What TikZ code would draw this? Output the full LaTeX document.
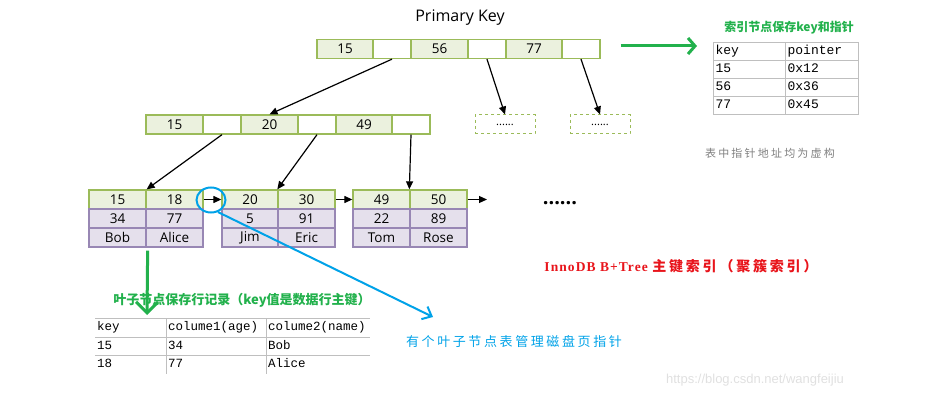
\documentclass[tikz,border=0pt]{standalone}
\usepackage{fontspec}
\setmainfont{Open Sans}
\newfontfamily\monofont{Liberation Mono}
\newfontfamily\markfont{Liberation Sans}
\newfontfamily\cjkfont{Noto Sans CJK SC}
\newfontfamily\cjkwide[LetterSpace=20]{Noto Sans CJK SC}
\newfontfamily\serifwide[LetterSpace=8]{Liberation Serif}
\usetikzlibrary{shapes.geometric, arrows.meta, matrix}

\definecolor{cellgreen}{HTML}{EBF1DE}
\definecolor{edgegreen}{HTML}{9BBB59}
\definecolor{cellpurple}{HTML}{E5E0EC}
\definecolor{edgepurple}{HTML}{9887B4}
\definecolor{noteblue}{HTML}{00A2E8}
\definecolor{notegreen}{HTML}{22B14C}
\definecolor{notered}{HTML}{E8141B}

\begin{document}
\begin{tikzpicture}[x=1pt, y=-1pt,
  keycell/.style={draw=edgegreen, fill=cellgreen, line width=1.3pt, minimum width=56pt,
    minimum height=19pt, inner sep=0pt, font=\fontsize{13.5}{16}\selectfont},
  ptrcell/.style={keycell, fill=white, minimum width=38pt},
  leafkey/.style={keycell, minimum width=57pt},
  leafdata/.style={leafkey, draw=edgepurple, fill=cellpurple},
  morebox/.style={draw=edgegreen, dashed, line width=1pt, minimum width=60pt,
    minimum height=19pt, inner sep=0pt, font=\fontsize{11}{12}\selectfont},
  tabcell/.style={draw=black!25, line width=0.8pt, minimum height=18pt, inner xsep=2pt,
    inner ysep=0pt, align=left, text height=9pt, text depth=2.5pt,
    font=\monofont\fontsize{13}{14}\selectfont},
  rowcell/.style={minimum height=18.5pt, inner xsep=2pt, inner ysep=0pt, align=left,
    text height=9pt, text depth=2.5pt, font=\monofont\fontsize{12.5}{13}\selectfont},
  tline/.style={draw=black!25, line width=0.8pt},
  arr/.style={-{Triangle[length=8pt,width=7pt]}, line width=1.2pt},
  garr/.style={-{Straight Barb[length=7pt,width=16pt]}, line width=3pt, notegreen},
  barr/.style={-{Straight Barb[length=8pt,width=14pt]}, line width=2pt, noteblue}
]
  \useasboundingbox (0,0) rectangle (938,409);

  %% Root page
  \node[font=\fontsize{16}{18}\selectfont] (pktitle) at (460,18) {Primary Key};
  \node[keycell] (r1) at (345,49) {15};
  \node[ptrcell] (r2) at (392,49) {};
  \node[keycell, minimum width=57pt] (r3) at (439.5,49) {56};
  \node[ptrcell] (r4) at (487,49) {};
  \node[keycell] (r5) at (534,49) {77};
  \node[ptrcell] (r6) at (581,49) {};

  %% Second level
  \node[keycell, minimum width=57pt] (i1) at (174.5,124.5) {15};
  \node[ptrcell] (i2) at (222,124.5) {};
  \node[keycell, minimum width=57pt] (i3) at (269.5,124.5) {20};
  \node[ptrcell] (i4) at (317,124.5) {};
  \node[keycell] (i5) at (364,124.5) {49};
  \node[ptrcell] (i6) at (411,124.5) {};
  \node[morebox] (m1) at (505,124.5) {......};
  \node[morebox] (m2) at (600,124.5) {......};
  \draw[arr] (r2.south) -- (i3.north);
  \draw[arr] (r4.south) -- (m1.north);
  \draw[arr] (r6.south) -- (m2.north);

  %% Leaf pages
  \node[leafkey] (l1k1) at (117.5,199.5) {15};
  \node[leafkey] (l1k2) at (174.5,199.5) {18};
  \node[leafdata] (l1v1) at (117.5,218.5) {34};
  \node[leafdata] (l1v2) at (174.5,218.5) {77};
  \node[leafdata] (l1n1) at (117.5,237.5) {Bob};
  \node[leafdata] (l1n2) at (174.5,237.5) {Alice};

  \node[leafkey, minimum width=56pt] (l2k1) at (250,199.5) {20};
  \node[leafkey] (l2k2) at (306.5,199.5) {30};
  \node[leafdata, minimum width=56pt] (l2v1) at (250,218.5) {5};
  \node[leafdata] (l2v2) at (306.5,218.5) {91};
  \node[leafdata, minimum width=56pt] (l2n1) at (250,237.5) {Jim};
  \node[leafdata] (l2n2) at (306.5,237.5) {Eric};

  \node[leafkey] (l3k1) at (381.5,199.5) {49};
  \node[leafkey] (l3k2) at (438.5,199.5) {50};
  \node[leafdata] (l3v1) at (381.5,218.5) {22};
  \node[leafdata] (l3v2) at (438.5,218.5) {89};
  \node[leafdata] (l3n1) at (381.5,237.5) {Tom};
  \node[leafdata] (l3n2) at (438.5,237.5) {Rose};

  \node[font=\bfseries\fontsize{20}{20}\selectfont] (dots) at (560,203) {......};
  \coordinate (nextleaf) at (487,199.5);

  \draw[arr] (i2.south) -- (l1k1.north east);
  \draw[arr] (i4.south) -- (l2k2.north west);
  \draw[arr] (i6.south) -- (l3k2.north west);
  \draw[arr] (l1k2.east) -- (l2k1.west);
  \draw[arr] (l2k2.east) -- (l3k1.west);
  \draw[arr] (l3k2.east) -- (nextleaf);

  %% Key / pointer table
  \node[font=\cjkfont\bfseries\fontsize{12}{14}\selectfont, text=notegreen] (ktitle) at (789,28)
    {索引节点保存key和指针};
  \matrix (ktab) [matrix of nodes, matrix anchor=north west, inner sep=0pt, nodes={tabcell},
    column sep=-0.8pt, row sep=-0.8pt,
    column 1/.style={nodes={text width=68pt}},
    column 2/.style={nodes={text width=69pt}}] at (713,42) {
    key & pointer \\
    15  & 0x12 \\
    56  & 0x36 \\
    77  & 0x45 \\
  };
  \coordinate (ktip) at (697,46);
  \draw[garr] ([xshift=20pt, yshift=3pt]r6.east) -- (ktip);
  \node[font=\cjkwide\fontsize{11}{13}\selectfont, text=black!50] (vnote) at (770,153)
    {表中指针地址均为虚构};

  %% Caption
  \node[text=notered] (caption) at (681,266)
    {{\serifwide\bfseries\fontsize{13.5}{16}\selectfont InnoDB B+Tree }{\cjkwide\bfseries\fontsize{14}{16}\selectfont 主键索引（聚簇索引）}};

  %% Leaf page pointer note
  \node[ellipse, draw=noteblue, line width=2pt, minimum width=29pt, minimum height=25pt,
    inner sep=0pt] (ring) at (211,200) {};
  \coordinate (btip) at (433,317);
  \draw[barr] (ring.-60) -- (btip);
  \node[font=\cjkwide\fontsize{13}{15}\selectfont, text=noteblue] (disknote) at (514,342)
    {有个叶子节点表管理磁盘页指针};

  %% Row record table
  \coordinate (gtip) at (147,315);
  \draw[garr, -{Straight Barb[length=11pt,width=22pt]}] ([xshift=1pt, yshift=-3pt]l1n1.south east) -- (gtip);
  \node[font=\cjkfont\bfseries\fontsize{13}{15}\selectfont, text=notegreen] (rtitle) at (242,300)
    {叶子节点保存行记录（key值是数据行主键）};
  \matrix (rtab) [matrix of nodes, matrix anchor=north west, inner sep=0pt, nodes={rowcell},
    column sep=0pt, row sep=0pt,
    column 1/.style={nodes={text width=67pt}},
    column 2/.style={nodes={text width=96pt}},
    column 3/.style={nodes={text width=100pt}}] at (95,318) {
    key & colume1(age) & colume2(name) \\
    15  & 34 & Bob \\
    18  & 77 & Alice \\
  };
  \draw[tline] (rtab-1-1.north west) -- (rtab-1-3.north east);
  \draw[tline] (rtab-1-1.south west) -- (rtab-1-3.south east);
  \draw[tline] (rtab-2-1.south west) -- (rtab-2-3.south east);
  \draw[tline] (rtab-1-2.north west) -- (rtab-3-2.south west);
  \draw[tline] (rtab-1-3.north west) -- (rtab-3-3.south west);

  \node[font=\markfont\fontsize{13}{15}\selectfont, text=black!12] (wmark) at (755,380)
    {https://blog.csdn.net/wangfeijiu};
\end{tikzpicture}
\end{document}
